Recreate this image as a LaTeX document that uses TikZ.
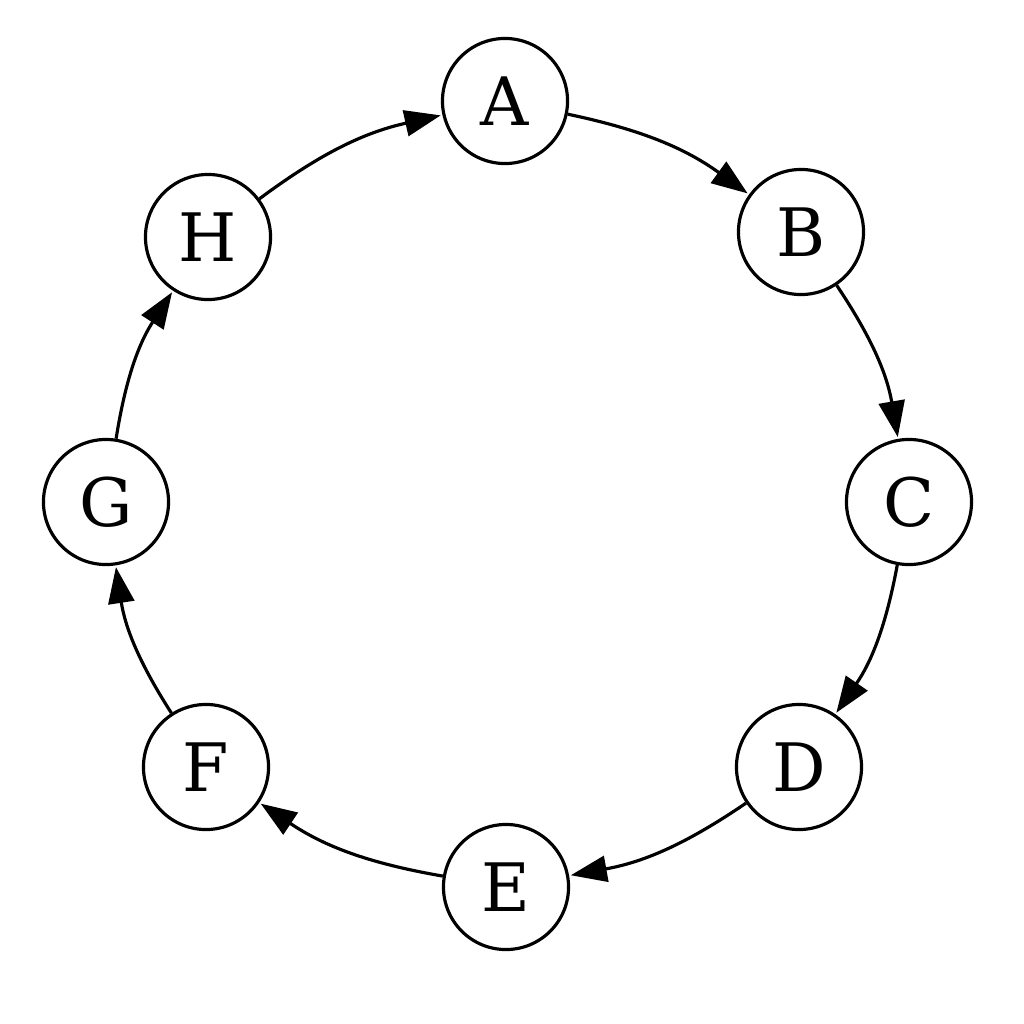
\documentclass[tikz,border=0pt]{standalone}
\usepackage{fontspec}
\setmainfont{DejaVu Serif}
\usetikzlibrary{arrows.meta}
\begin{document}
\begin{tikzpicture}[x=0.01cm,y=-0.01cm,
  vert/.style={circle,draw,line width=0.9pt,minimum size=1.25cm,inner sep=0pt,font=\fontsize{19}{22}\selectfont},
  arc/.style={line width=0.9pt,-{Triangle[length=0.36cm,width=0.26cm]},bend left=12,shorten >=0.5pt}]
\useasboundingbox (0,0) rectangle (1024,1024);
\node[vert] (A) at (505,101) {A};
\node[vert] (B) at (801,232) {B};
\node[vert] (C) at (909,502) {C};
\node[vert] (D) at (799,767) {D};
\node[vert] (E) at (506,887) {E};
\node[vert] (F) at (206,767) {F};
\node[vert] (G) at (106,502) {G};
\node[vert] (H) at (208,237) {H};
\draw[arc] (A) to (B);
\draw[arc] (B) to (C);
\draw[arc] (C) to (D);
\draw[arc] (D) to (E);
\draw[arc] (E) to (F);
\draw[arc] (F) to (G);
\draw[arc] (G) to (H);
\draw[arc] (H) to (A);
\end{tikzpicture}
\end{document}
